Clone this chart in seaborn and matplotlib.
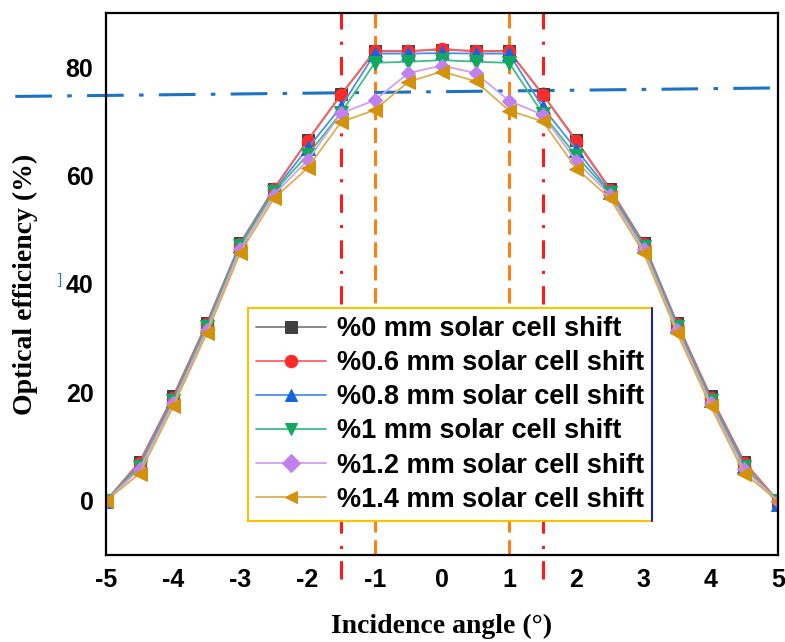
import numpy as np
import pandas as pd
import matplotlib
matplotlib.use("Agg")
import matplotlib.pyplot as plt
from matplotlib.ticker import MultipleLocator
import seaborn as sns

# incidence angle (deg)
angles = [-5, -4.5, -4, -3.5, -3, -2.5, -2, -1.5, -1, -0.5, 0,
          0.5, 1, 1.5, 2, 2.5, 3, 3.5, 4, 4.5, 5]

# optical efficiency (%) per solar cell shift
eff_0mm = [0, 7.2, 19.3, 32.8, 47.6, 57.6, 66.5, 75.0, 83.0, 83.0, 83.2,
           83.0, 83.0, 75.0, 66.5, 57.6, 47.6, 32.8, 19.3, 7.2, 0]
eff_06mm = [0, 7.0, 19.0, 32.6, 47.4, 57.5, 66.4, 74.9, 82.9, 82.9, 83.4,
            82.9, 82.9, 74.9, 66.3, 57.4, 47.4, 32.6, 19.0, 7.0, 0]
eff_08mm = [0, 6.5, 18.6, 32.2, 47.2, 57.2, 65.0, 72.7, 82.5, 82.5, 82.6,
            82.5, 82.5, 72.6, 64.8, 57.0, 47.1, 32.2, 18.6, 6.5, -0.5]
eff_1mm = [0, 6.3, 18.4, 32.0, 47.0, 57.0, 63.8, 71.6, 80.8, 81.0, 81.3,
           81.0, 80.8, 71.4, 63.6, 56.8, 46.9, 32.0, 18.4, 6.3, 0]
eff_12mm = [0, 5.8, 18.0, 31.5, 46.5, 56.5, 62.8, 71.5, 73.9, 78.9, 80.3,
            78.9, 73.8, 71.2, 62.6, 56.4, 46.4, 31.5, 18.0, 5.8, 0]
eff_14mm = [0, 5.0, 17.4, 30.9, 45.8, 55.8, 61.4, 69.9, 72.1, 77.3, 79.2,
            77.4, 72.0, 70.0, 61.3, 55.8, 45.8, 30.9, 17.4, 5.0, 0]

labels = ["%0 mm solar cell shift", "%0.6 mm solar cell shift",
          "%0.8 mm solar cell shift", "%1 mm solar cell shift",
          "%1.2 mm solar cell shift", "%1.4 mm solar cell shift"]
series = [eff_0mm, eff_06mm, eff_08mm, eff_1mm, eff_12mm, eff_14mm]
marker_colors = ["#404040", "#ff2b2b", "#1466e0", "#12a860", "#c080ee", "#d4920a"]
line_colors = ["#808080", "#ff6060", "#4a90e8", "#3cbf80", "#d0a0f0", "#dcae50"]
markers = ["s", "o", "^", "v", "D", "<"]
msizes = [8, 9, 10, 10, 7, 10]

# guide lines
red_x = [-1.5, 1.5]
orange_x = [-1, 1]
blue_line_x = [-6.35, 5.2]
blue_line_y = [74.6, 76.2]

sns.set_style("white")
plt.rcParams["font.family"] = ["Liberation Sans", "DejaVu Sans"]
plt.rcParams["axes.unicode_minus"] = False
plt.rcParams["text.color"] = "black"
plt.rcParams["xtick.color"] = "black"
plt.rcParams["ytick.color"] = "black"
plt.rcParams["axes.labelcolor"] = "black"

fig = plt.figure(figsize=(7.85, 6.42), dpi=100)
ax = fig.add_axes([0.135, 0.1355, 0.856, 0.8443])

for vals, lab, mc, lc, mk, ms in zip(series, labels, marker_colors, line_colors, markers, msizes):
    df = pd.DataFrame({"angle": angles, "eff": vals})
    sns.lineplot(data=df, x="angle", y="eff", ax=ax, color=lc, linewidth=1.3,
                 marker=mk, markersize=ms, markerfacecolor=mc, markeredgecolor=mc,
                 label=lab)

for xv in red_x:
    ax.plot([xv, xv], [-14.5, 90], color="#ff1a1a", lw=2.2,
            linestyle=(0, (6, 4, 1, 4)), clip_on=False, zorder=1)
for xv in orange_x:
    ax.plot([xv, xv], [-10, 90], color="#ff8010", lw=2.2,
            linestyle=(0, (5, 2.5)), zorder=1)
ax.plot(blue_line_x, blue_line_y, color="#1c72c4", lw=2.2,
        linestyle=(0, (12, 5, 1.5, 5)), clip_on=False, zorder=1)

ax.set_xlim(-5, 5)
ax.set_ylim(-10, 90)
ax.xaxis.set_major_locator(MultipleLocator(1))
ax.xaxis.set_minor_locator(MultipleLocator(0.5))
ax.yaxis.set_major_locator(MultipleLocator(20))
ax.yaxis.set_minor_locator(MultipleLocator(10))
ax.set_yticks([0, 20, 40, 60, 80])
ax.tick_params(which="major", direction="in", length=7, width=1.5,
               labelsize=18, pad=9)
ax.tick_params(which="minor", direction="in", length=3.5, width=1.5)
for t in ax.get_xticklabels() + ax.get_yticklabels():
    t.set_fontweight("bold")
for sp in ax.spines.values():
    sp.set_linewidth(1.6)
    sp.set_color("black")

ax.set_xlabel("Incidence angle (°)", fontsize=20, fontweight="bold",
              family="Liberation Serif", labelpad=16)
ax.set_ylabel("Optical efficiency (%)", fontsize=20, fontweight="bold",
              family="Liberation Serif", labelpad=20)

leg = ax.legend(loc="lower left", bbox_to_anchor=(0.211, 0.063), borderaxespad=0,
                prop={"size": 19.5, "weight": "bold"}, frameon=True, fancybox=False,
                framealpha=1, edgecolor="#ffc000", handlelength=2.6,
                labelspacing=0.3, handletextpad=0.4, borderpad=0.3)
leg.get_frame().set_linewidth(1.5)
for h in leg.legend_handles:
    h.set_markersize(9)

# navy right edge of the legend box
fig.canvas.draw()
bb = leg.get_frame().get_window_extent().transformed(ax.transAxes.inverted())
ax.plot([bb.x1, bb.x1], [bb.y0, bb.y1], color="#1a2a9a", lw=1.5,
        transform=ax.transAxes, zorder=6)

fig.text(0.074, 0.558, "]", color="#3070e0", fontsize=11)

fig.savefig("out.png", dpi=100)
